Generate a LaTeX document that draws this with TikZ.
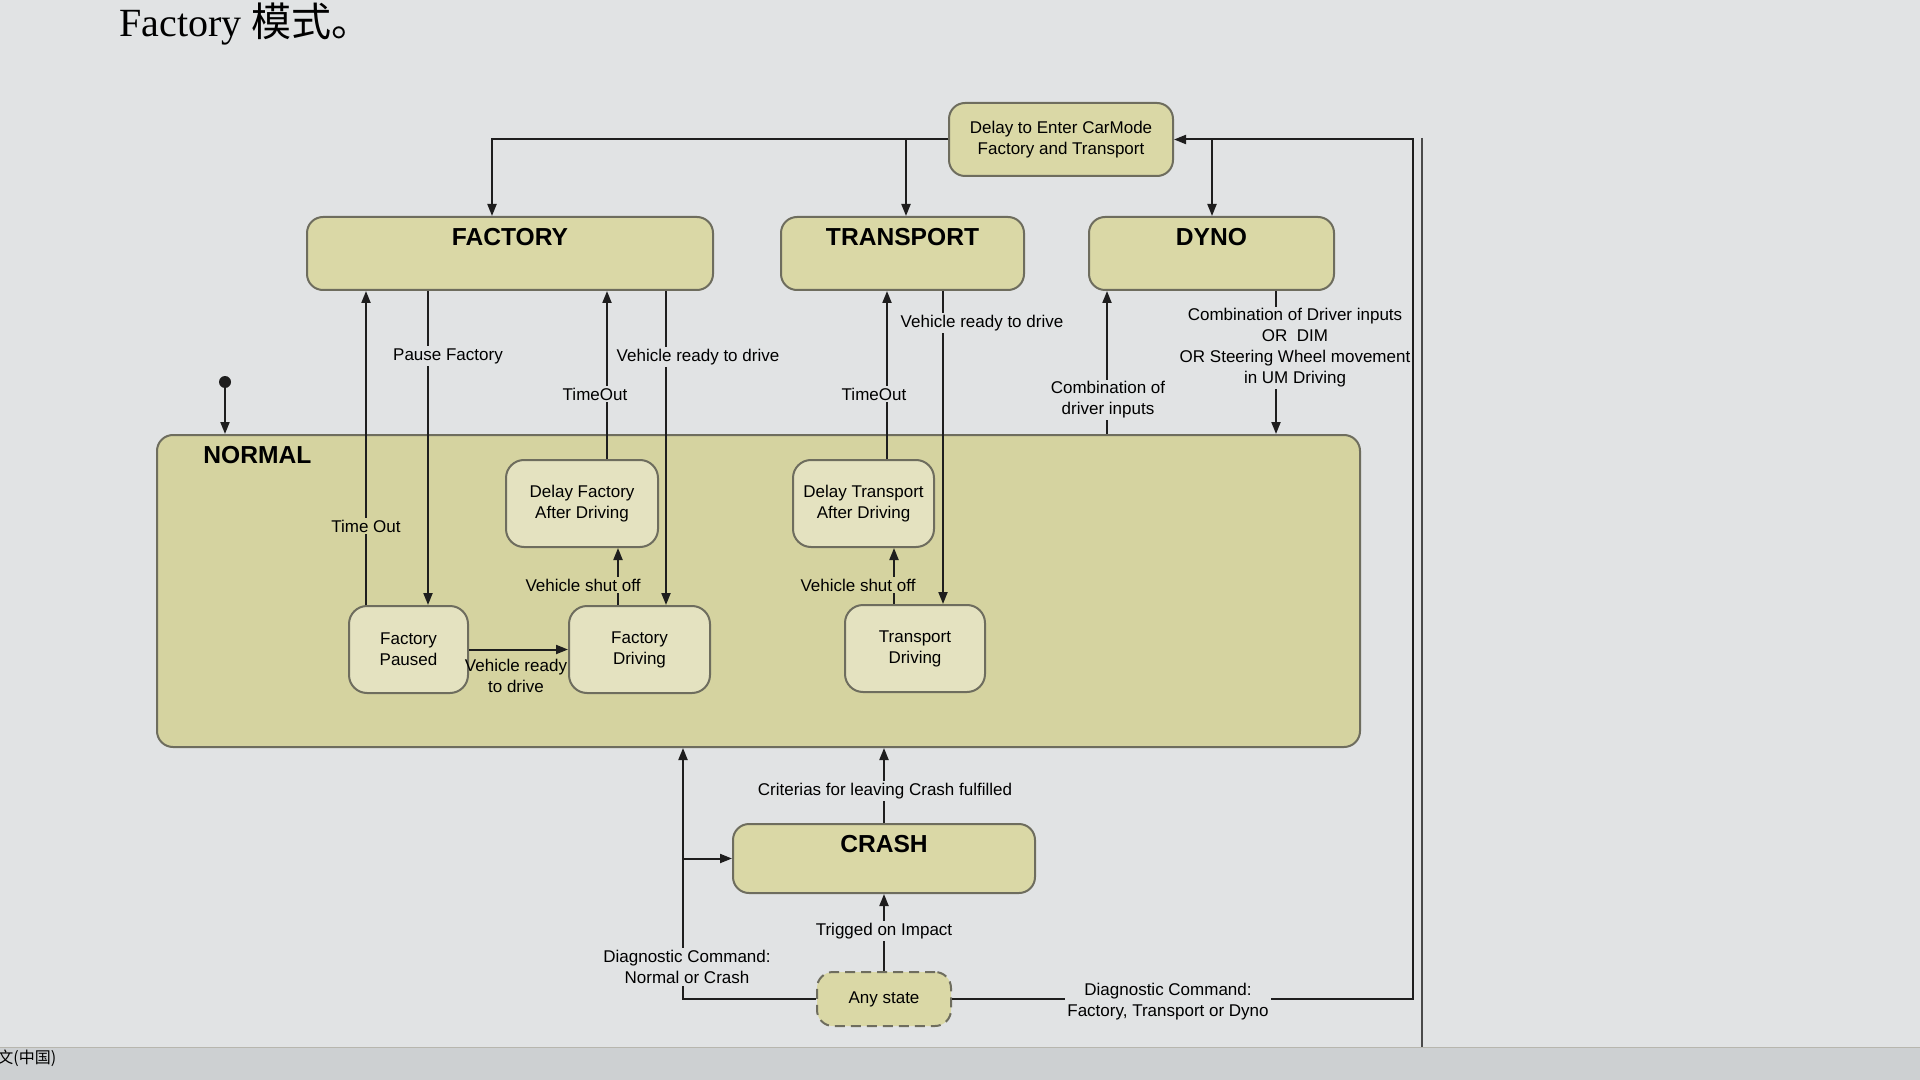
\documentclass[tikz,border=0pt]{standalone}
\usepackage{fontspec}
\setmainfont{Liberation Sans}
\newfontfamily\titleserif{Liberation Serif}
\newfontfamily\cjk{Noto Sans CJK SC}
\definecolor{SMbg}{HTML}{E1E3E4}
\definecolor{SMbar}{HTML}{CDD0D2}
\definecolor{SMfill}{HTML}{DAD8A6}
\definecolor{SMnormal}{HTML}{D5D3A0}
\definecolor{SMinner}{HTML}{E4E2C0}
\definecolor{SMedge}{HTML}{6E6D5E}
\definecolor{SMline}{HTML}{1E1E1E}
\usetikzlibrary{arrows.meta, positioning}

\begin{document}
\begin{tikzpicture}[x=0.5pt, y=-0.5pt,
    mode/.style={draw=SMedge, line width=1pt, fill=SMfill, rounded corners=8pt,
       align=center, font=\fontsize{8.5}{10.5}\selectfont},
    substate/.style={draw=SMedge, line width=1pt, fill=SMinner, rounded corners=9pt,
       align=center, font=\fontsize{8.5}{10.5}\selectfont},
    modename/.style={font=\bfseries\fontsize{12.3}{14}\selectfont, inner sep=0pt},
    arr/.style={-{Triangle[length=6pt,width=4.5pt]}, line width=1pt, draw=SMline},
    lbl/.style={fill=SMbg, inner sep=1pt, align=center, font=\fontsize{8.5}{10.5}\selectfont},
    lblin/.style={lbl, fill=SMnormal}]
   % Page
   \fill[SMbg] (0,0) rectangle (1920,1080);
   \useasboundingbox (0,0) rectangle (1920,1080);
   \fill[SMbar] (0,1047) rectangle (1920,1080);
   \draw[SMedge!50, line width=0.5pt] (0,1047) -- (1920,1047);
   \draw[SMline!80, line width=0.6pt] (1422,138) -- (1422,1047);
   \node[anchor=base west, inner sep=0pt, font=\fontsize{20}{24}\selectfont] (title) at (119,37)
      {\titleserif Factory \cjk 模式。};
   \node[anchor=west, inner sep=0pt, font=\fontsize{8}{9}\selectfont] (status) at (-3,1058)
      {\cjk 文(中国)};
   % NORMAL region
   \node[mode, fill=SMnormal, minimum width=601.5pt, minimum height=156pt] (normal) at (758.5,591) {};
   \node[modename, anchor=north west] (normalT) at (203,446) {NORMAL};
   % Top level modes
   \node[mode, minimum width=112pt, minimum height=36.5pt] (delay) at (1061,139.5)
      {Delay to Enter CarMode\\Factory and Transport};
   \node[mode, minimum width=203pt, minimum height=36.5pt] (factory) at (510,253.5) {};
   \node[modename, below=6pt of factory.north] (factoryT) {FACTORY};
   \node[mode, minimum width=121.5pt, minimum height=36.5pt] (transport) at (902.5,253.5) {};
   \node[modename, below=6pt of transport.north] (transportT) {TRANSPORT};
   \node[mode, minimum width=122.5pt, minimum height=36.5pt] (dyno) at (1211.5,253.5) {};
   \node[modename, below=6pt of dyno.north] (dynoT) {DYNO};
   \node[mode, minimum width=151pt, minimum height=34.5pt] (crash) at (884,858.5) {};
   \node[modename, below=6pt of crash.north] (crashT) {CRASH};
   \node[mode, dashed, dash pattern=on 5pt off 3pt, minimum width=67pt, minimum height=27pt] (any)
      at (884,999) {Any state};
   % Sub states inside NORMAL
   \node[substate, minimum width=76pt, minimum height=43.5pt] (dfad) at (582,503.5)
      {Delay Factory\\After Driving};
   \node[substate, minimum width=70.5pt, minimum height=43.5pt] (dtad) at (863.5,503.5)
      {Delay Transport\\After Driving};
   \node[substate, minimum width=59.5pt, minimum height=43.5pt] (fpaused) at (408.5,649.5)
      {Factory\\Paused};
   \node[substate, minimum width=70.5pt, minimum height=43.5pt] (fdriving) at (639.5,649.5)
      {Factory\\Driving};
   \node[substate, minimum width=70pt, minimum height=43.5pt] (tdriving) at (915,648.5)
      {Transport\\Driving};
   % Initial state
   \node[circle, fill=SMline, inner sep=0pt, minimum size=6pt] (init) at (225,382) {};
   \draw[arr] (init) -- (normal.north -| init);
   % Delay state fans out
   \draw[arr] (delay.west) -| (factory.north -| 492,0);
   \draw[arr] (delay.west -| 906,0) -- (transport.north -| 906,0);
   \draw[arr] (delay.east -| 1212,0) -- (dyno.north -| 1212,0);
   % Factory
   \draw[arr] (fpaused.north -| 366,0) -- (factory.south -| 366,0);
   \draw[arr] (factory.south -| 428,0) -- (fpaused.north -| 428,0);
   \draw[arr] (dfad.north -| 607,0) -- (factory.south -| 607,0);
   \draw[arr] (factory.south -| 666,0) -- (fdriving.north -| 666,0);
   \draw[arr] (fpaused.east) -- (fdriving.west);
   \draw[arr] (fdriving.north -| 618,0) -- (dfad.south -| 618,0);
   % Transport
   \draw[arr] (dtad.north -| 887,0) -- (transport.south -| 887,0);
   \draw[arr] (transport.south -| 943,0) -- (tdriving.north -| 943,0);
   \draw[arr] (tdriving.north -| 894,0) -- (dtad.south -| 894,0);
   % Dyno
   \draw[arr] (normal.north -| 1107,0) -- (dyno.south -| 1107,0);
   \draw[arr] (dyno.south -| 1276,0) -- (normal.north -| 1276,0);
   % Crash and diagnostic commands
   \draw[arr] (crash.north) -- (normal.south -| crash.north);
   \draw[arr] (any.north) -- (crash.south);
   \draw[arr] (any.west) -| (normal.south -| 683,0);
   \draw[arr] (crash.west -| 683,0) -- (crash.west);
   \draw[arr] (any.east) -- (any.east -| 1413,0) -- (delay.east -| 1413,0) -- (delay.east);
   % Labels
   \node[lblin] (lTimeOutF) at (366,526) {Time Out};
   \node[lbl] (lPause) at (448,356) {Pause Factory};
   \node[lbl] (lTimeOutD) at (595,394) {TimeOut};
   \node[lbl] (lReadyF) at (698,357) {Vehicle ready to drive};
   \node[lbl, fill=none] (lReadyP) at (516,676) {Vehicle ready\\to drive};
   \node[lblin] (lShutF) at (583,585) {Vehicle shut off};
   \node[lbl] (lTimeOutT) at (874,394) {TimeOut};
   \node[lbl] (lReadyT) at (982,323) {Vehicle ready to drive};
   \node[lblin] (lShutT) at (858,585) {Vehicle shut off};
   \node[lbl] (lDynoIn) at (1108,400) {Combination of\\driver inputs};
   \node[lbl] (lDynoOut) at (1295,348)
      {Combination of Driver inputs\\OR~~DIM\\OR Steering Wheel movement\\in UM Driving};
   \node[lbl] (lLeave) at (885,791) {Criterias for leaving Crash fulfilled};
   \node[lbl] (lImpact) at (884,931) {Trigged on Impact};
   \node[lbl] (lDiagN) at (687,967) {Diagnostic Command:\\Normal or Crash};
   \node[lbl] (lDiagF) at (1168,1002) {Diagnostic Command:\\Factory, Transport or Dyno};
\end{tikzpicture}
\end{document}
